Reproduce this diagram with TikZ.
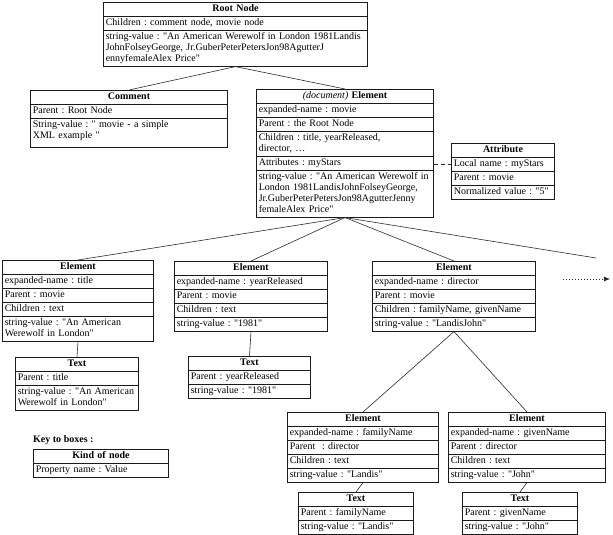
\documentclass[tikz,border=0pt]{standalone}
\usepackage{fontspec}
\setmainfont{Liberation Serif}[Ligatures=TeXOff]
\usepackage{tikz}
\usetikzlibrary{arrows.meta, calc, shapes.multipart}
\definecolor{boxink}{HTML}{1A1A1A}
\definecolor{edgeink}{HTML}{2B2B2B}
\newcommand{\boxfont}{\fontsize{10bp}{11bp}\selectfont\frenchspacing}
\newcommand{\kindrow}[1]{\makebox[\linewidth]{\bfseries\strut#1}}
\newcommand{\proprow}[1]{\strut#1\strut}
\tikzset{
  nodebox/.style  = {rectangle split, rectangle split parts=#1, draw=boxink,
                     line width=0.6pt, inner xsep=2.5bp, inner ysep=1.2bp,
                     align=left, anchor=north west, font=\boxfont},
  treeedge/.style = {draw=edgeink, line width=0.6pt},
  attredge/.style = {treeedge, dash pattern=on 4pt off 3pt},
  moreedge/.style = {treeedge, line width=0.8pt, dash pattern=on 0.8pt off 2.2pt,
                     -{Latex[length=6bp, width=5bp, fill=edgeink]}},
  keylabel/.style = {font=\boxfont\bfseries, inner sep=0pt, anchor=base west},
}

\begin{document}
\begin{tikzpicture}[x=1bp, y=-1bp]
  \useasboundingbox (0,0) rectangle (613,535);
  \node[nodebox=3, text width=259.4bp] (root) at (103,2)
    {\kindrow{Root Node}
     \nodepart{two}\proprow{Children : comment node, movie node}
     \nodepart{three}\proprow{string-value : "An American Werewolf in London 1981Landis\\JohnFolseyGeorge, Jr.GuberPeterPetersJon98AgutterJ\\ennyfemaleAlex Price"}};
  \node[nodebox=3, text width=192.4bp] (comment) at (30,90)
    {\kindrow{Comment}
     \nodepart{two}\proprow{Parent : Root Node}
     \nodepart{three}\proprow{String-value : " movie - a simple\\XML example "}\rule[-7bp]{0pt}{7bp}};
  \node[nodebox=6, text width=172.4bp] (doc) at (256,89)
    {\kindrow{{\mdseries\itshape (document)} Element}
     \nodepart{two}\proprow{expanded-name : movie}
     \nodepart{three}\proprow{Parent : the Root Node}
     \nodepart{four}\proprow{Children : title, yearReleased,\\director, \dots}
     \nodepart{five}\proprow{Attributes : myStars}
     \nodepart{six}\proprow{string-value : "An American Werewolf in\\London 1981LandisJohnFolseyGeorge,\\Jr.GuberPeterPetersJon98AgutterJenny\\femaleAlex Price"}};
  \node[nodebox=4, text width=98.4bp] (attr) at (451,143)
    {\kindrow{Attribute}
     \nodepart{two}\proprow{Local name : myStars}
     \nodepart{three}\proprow{Parent : movie}
     \nodepart{four}\proprow{Normalized value : "5"}};
  \node[nodebox=5, text width=146.4bp] (title) at (2,260)
    {\kindrow{Element}
     \nodepart{two}\proprow{expanded-name : title}
     \nodepart{three}\proprow{Parent : movie}
     \nodepart{four}\proprow{Children : text}
     \nodepart{five}\proprow{string-value : "An American\\Werewolf in London"}};
  \node[nodebox=3, text width=118.4bp] (titletxt) at (15,357)
    {\kindrow{Text}
     \nodepart{two}\proprow{Parent : title}
     \nodepart{three}\proprow{string-value : "An American\\Werewolf in London"}};
  \node[nodebox=5, text width=148.4bp] (year) at (174,261)
    {\kindrow{Element}
     \nodepart{two}\proprow{expanded-name : yearReleased}
     \nodepart{three}\proprow{Parent : movie}
     \nodepart{four}\proprow{Children : text}
     \nodepart{five}\proprow{string-value : "1981"}};
  \node[nodebox=3, text width=117.4bp] (yeartxt) at (188,356)
    {\kindrow{Text}
     \nodepart{two}\proprow{Parent : yearReleased}
     \nodepart{three}\proprow{string-value : "1981"}};
  \node[nodebox=5, text width=158.4bp] (director) at (372,261)
    {\kindrow{Element}
     \nodepart{two}\proprow{expanded-name : director}
     \nodepart{three}\proprow{Parent : movie}
     \nodepart{four}\proprow{Children : familyName, givenName}
     \nodepart{five}\proprow{string-value : "LandisJohn"}};
  \node[nodebox=5, text width=146.4bp] (family) at (287,412)
    {\kindrow{Element}
     \nodepart{two}\proprow{expanded-name : familyName}
     \nodepart{three}\proprow{Parent\ \ : director}
     \nodepart{four}\proprow{Children : text}
     \nodepart{five}\proprow{string-value : "Landis"}};
  \node[nodebox=3, text width=110.4bp] (familytxt) at (298,492)
    {\kindrow{Text}
     \nodepart{two}\proprow{Parent : familyName}
     \nodepart{three}\proprow{string-value : "Landis"}};
  \node[nodebox=5, text width=152.4bp] (given) at (448,412)
    {\kindrow{Element}
     \nodepart{two}\proprow{expanded-name : givenName}
     \nodepart{three}\proprow{Parent : director}
     \nodepart{four}\proprow{Children : text}
     \nodepart{five}\proprow{string-value : "John"}};
  \node[nodebox=3, text width=110.4bp] (giventxt) at (462,492)
    {\kindrow{Text}
     \nodepart{two}\proprow{Parent : givenName}
     \nodepart{three}\proprow{string-value : "John"}};
  \node[keylabel] (keylbl) at (33,442) {Key to boxes :};
  \node[nodebox=2, text width=130.4bp] (key) at (33,449)
    {\kindrow{Kind of node}
     \nodepart{two}\proprow{Property name : Value}};
  \coordinate (more) at (596,258);
  \coordinate (moretail) at (563,279);
  \coordinate (morehead) at (610,279);
  \coordinate (attrrow) at ($(attr.text split west)!0.5!(attr.two split west)$);
  \draw[treeedge] (root.south) -- (comment.north);
  \draw[treeedge] (root.south) -- (doc.north);
  \draw[treeedge] (doc.south) -- (title.north);
  \draw[treeedge] (doc.south) -- (year.north);
  \draw[treeedge] (doc.south) -- (director.north);
  \draw[treeedge] (doc.south) -- (more);
  \draw[treeedge] (title.south) -- (titletxt.north);
  \draw[treeedge] (year.south) -- (yeartxt.north);
  \draw[treeedge] (director.south) -- (family.north);
  \draw[treeedge] (director.south) -- (given.north);
  \draw[treeedge] (family.south) -- (familytxt.north);
  \draw[treeedge] (given.south) -- (giventxt.north);
  \draw[attredge] (attrrow -| doc.east) -- (attrrow);
  \draw[moreedge] (moretail) -- (morehead);
\end{tikzpicture}
\end{document}
